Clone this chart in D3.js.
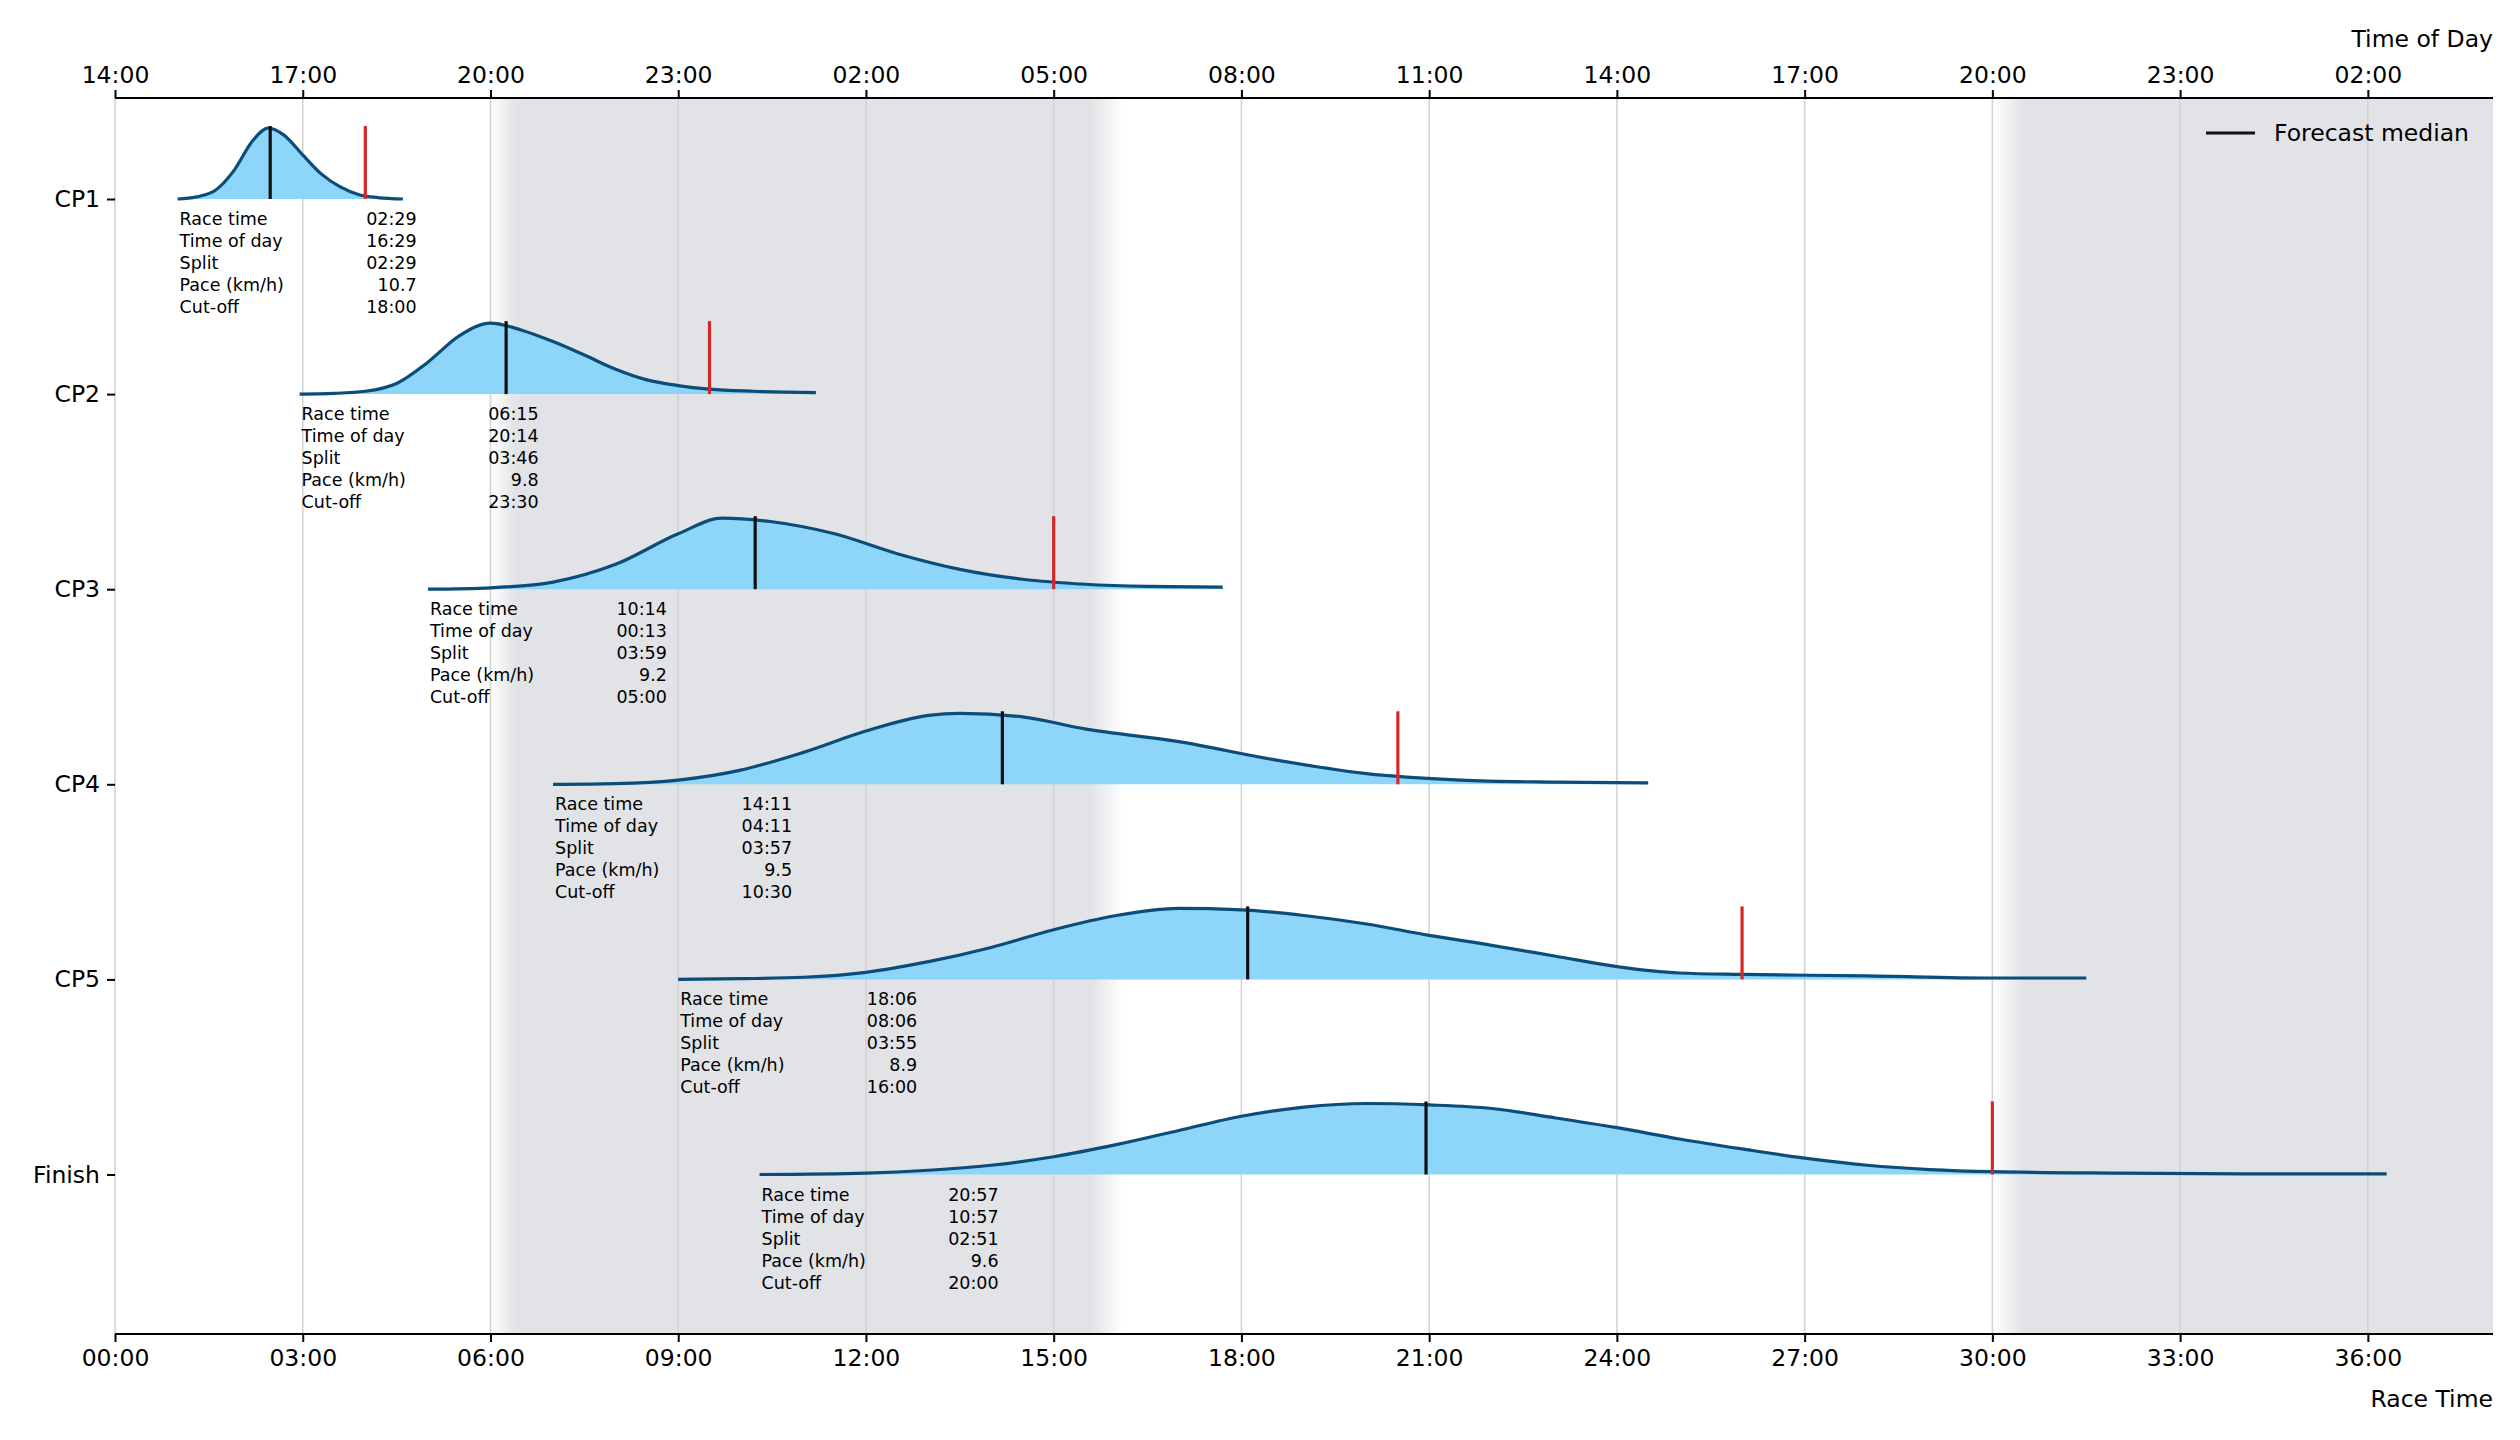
<!DOCTYPE html>
<html><head><meta charset="utf-8">
<script src="https://cdn.jsdelivr.net/npm/d3@7"></script>
<style>body{margin:0;background:#fff}svg{font-family:"DejaVu Sans",sans-serif}</style>
</head><body><svg id="c" width="2520" height="1440"></svg>
<script>
const checkpoints=["CP1","CP2","CP3","CP4","CP5","Finish"];
const dens=[
 [[1.0,0],[1.3,0.03],[1.6,0.12],[1.9,0.4],[2.2,0.82],[2.45,1],[2.7,0.9],[3.0,0.62],[3.3,0.35],[3.6,0.17],[3.9,0.06],[4.2,0.02],[4.6,0]],
 [[2.95,0],[3.5,0.01],[4.0,0.04],[4.5,0.15],[5.0,0.45],[5.5,0.82],[6.0,1],[6.5,0.9],[7.0,0.74],[7.5,0.55],[8.0,0.35],[8.5,0.2],[9.0,0.12],[9.5,0.07],[10.2,0.04],[11.2,0.02]],
 [[5.0,0],[6,0.02],[7,0.1],[8,0.35],[9,0.78],[9.7,1],[10.5,0.95],[11.5,0.78],[12.5,0.5],[13.5,0.28],[14.5,0.14],[15.5,0.07],[16.5,0.04],[17.7,0.03]],
 [[7,0],[8,0.01],[9,0.06],[10,0.2],[11,0.45],[12,0.75],[13,0.97],[13.5,1],[14.5,0.95],[15.5,0.78],[17,0.6],[18.5,0.35],[20,0.15],[21.5,0.06],[23,0.03],[24.5,0.02]],
 [[9,0],[10,0.01],[11,0.03],[12,0.1],[13,0.25],[14,0.45],[15,0.7],[16,0.9],[17,1],[18,0.98],[19,0.9],[20,0.78],[21,0.62],[22,0.48],[23,0.33],[24,0.18],[25,0.09],[26,0.07],[28,0.05],[30,0.02],[31.5,0.02]],
 [[10.3,0],[12,0.02],[13,0.06],[14,0.13],[15,0.25],[16,0.42],[17,0.62],[18,0.82],[19,0.95],[20,1],[21,0.98],[22,0.93],[23,0.8],[24,0.66],[25,0.5],[26,0.36],[27,0.23],[28,0.13],[29,0.07],[30,0.04],[32,0.02],[34,0.01],[36.3,0.01]]
];
const medians=[2.48,6.25,10.23,14.18,18.1,20.95];
const cutoffs=[4,9.5,15,20.5,26,30];
const raceTime=["02:29","06:15","10:14","14:11","18:06","20:57"];
const timeOfDay=["16:29","20:14","00:13","04:11","08:06","10:57"];
const splits=["02:29","03:46","03:59","03:57","03:55","02:51"];
const paces=["10.7","9.8","9.2","9.5","8.9","9.6"];
const cutoffLabels=["18:00","23:30","05:00","10:30","16:00","20:00"];
const rowLabels=["Race time","Time of day","Split","Pace (km/h)","Cut-off"];
const nights=[[6.0,6.4,15.6,16.1],[30.0,30.5,38,38]];
const startHour=14;

const svg=d3.select("#c");
const L=115,R=2493,T=98,B=1334;
const x=d3.scaleLinear().domain([0,38]).range([L,R]);
const y=d3.scaleLinear().domain([0,5]).range([199,199+5*195.1]);
const h=d3.scaleLinear().domain([0,1]).range([0,71]);
const defs=svg.append("defs");
nights.forEach((n,i)=>{
  const g=defs.append("linearGradient").attr("id","ng"+i).attr("gradientUnits","userSpaceOnUse")
   .attr("x1",x(n[0])).attr("x2",x(n[3])).attr("y1",0).attr("y2",0);
  const span=n[3]-n[0];
  [[0,0],[(n[1]-n[0])/span,1],[(n[2]-n[0])/span,1],[1,n[3]>=38?1:0]].forEach(s=>
    g.append("stop").attr("offset",s[0]).attr("stop-color","#e1e3e6").attr("stop-opacity",s[1]));
  svg.append("rect").attr("x",x(n[0])).attr("y",T).attr("width",x(n[3])-x(n[0])).attr("height",B-T).attr("fill",`url(#ng${i})`);
});
const ticks=d3.range(0,37,3);
const fmt=v=>String(v).padStart(2,"0")+":00";
svg.append("g").selectAll("line").data(ticks).join("line")
 .attr("x1",d=>x(d)).attr("x2",d=>x(d)).attr("y1",T).attr("y2",B).attr("stroke","#d3d3d3").attr("stroke-width",1.6);

const area=d3.area().x(d=>x(d[0])).curve(d3.curveMonotoneX);
const line=d3.line().x(d=>x(d[0])).curve(d3.curveMonotoneX);
dens.forEach((d,i)=>{
  const base=y(i);
  area.y0(base).y1(p=>base-h(p[1]));
  line.y(p=>base-h(p[1]));
  svg.append("path").attr("d",area(d)).attr("fill","#8ed5fa");
  svg.append("path").attr("d",line(d)).attr("fill","none").attr("stroke","#0b4d78").attr("stroke-width",3.2);
  svg.append("line").attr("x1",x(medians[i])).attr("x2",x(medians[i])).attr("y1",base).attr("y2",base-h(1)-2).attr("stroke","#111").attr("stroke-width",3.2);
  svg.append("line").attr("x1",x(cutoffs[i])).attr("x2",x(cutoffs[i])).attr("y1",base).attr("y2",base-h(1)-2).attr("stroke","#d62728").attr("stroke-width",3.2);
  const x0=x(d[0][0]);
  const vals=[raceTime[i],timeOfDay[i],splits[i],paces[i],cutoffLabels[i]];
  rowLabels.forEach((lab,k)=>{
    const ty=base+26+k*22;
    svg.append("text").attr("x",x0+2).attr("y",ty).attr("font-size",17.5).text(lab);
    svg.append("text").attr("x",x0+239).attr("y",ty).attr("font-size",17.5).attr("text-anchor","end").text(vals[k]);
  });
});
const botAx=svg.append("g").attr("transform",`translate(0,${B})`)
 .call(d3.axisBottom(x).tickValues(ticks).tickFormat(fmt).tickSize(8).tickPadding(7));
const topAx=svg.append("g").attr("transform",`translate(0,${T})`)
 .call(d3.axisTop(x).tickValues(ticks).tickFormat(d=>fmt((d+startHour)%24)).tickSize(8).tickPadding(7));
[botAx,topAx].forEach(a=>{a.selectAll("text").attr("font-size",23.5).attr("font-family","DejaVu Sans").attr("fill","#000");
 a.selectAll("line").attr("stroke-width",2); a.select(".domain").attr("stroke-width",2).attr("d",`M${L},0H${R}`);});
const leftAx=svg.append("g").attr("transform",`translate(${L},0)`)
 .call(d3.axisLeft(y).tickValues(d3.range(6)).tickFormat(i=>checkpoints[i]).tickSize(8).tickPadding(7));
leftAx.select(".domain").remove();
leftAx.selectAll("text").attr("font-size",23.5).attr("font-family","DejaVu Sans").attr("fill","#000");
leftAx.selectAll("line").attr("stroke-width",2);
svg.append("text").attr("x",R).attr("y",B+73).attr("text-anchor","end").attr("font-size",23.5).text("Race Time");
svg.append("text").attr("x",R).attr("y",T-51).attr("text-anchor","end").attr("font-size",23.5).text("Time of Day");
svg.append("line").attr("x1",2206).attr("x2",2255).attr("y1",133).attr("y2",133).attr("stroke","#111").attr("stroke-width",3.2);
svg.append("text").attr("x",2274).attr("y",141).attr("font-size",23.5).text("Forecast median");
</script></body></html>
